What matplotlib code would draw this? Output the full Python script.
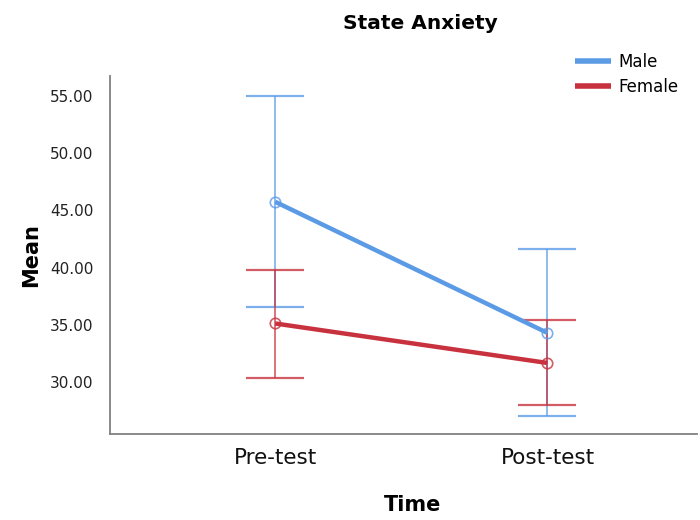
import matplotlib
matplotlib.use("Agg")
import matplotlib.pyplot as plt
import numpy as np

categories = ["Pre-test", "Post-test"]
groups = ["Male", "Female"]
male_mean = [45.75, 34.32]
male_low = [36.56, 27.08]
male_high = [54.97, 41.60]
female_mean = [35.14, 31.70]
female_low = [30.43, 28.01]
female_high = [39.82, 35.45]
yticks = [30, 35, 40, 45, 50, 55]

colors = {"Male": "#5B9BE6", "Female": "#C8323E"}

fig = plt.figure(figsize=(7, 5.2), dpi=100)
ax = fig.add_axes([0.157, 0.165, 0.839, 0.689])

x = np.arange(len(categories))
series = [
    ("Male", male_mean, male_low, male_high),
    ("Female", female_mean, female_low, female_high),
]
for name, m, lo, hi in series:
    c = colors[name]
    m = np.array(m); lo = np.array(lo); hi = np.array(hi)
    ax.errorbar(x, m, yerr=[m - lo, hi - m], fmt="none", ecolor=c, elinewidth=1.2,
                capsize=21, capthick=1.6, alpha=0.8, zorder=2)
    ax.plot(x, m, color=c, lw=3.2, zorder=3, label=name, solid_capstyle="butt")
    ax.plot(x, m, linestyle="none", marker="o", markersize=7.5, markerfacecolor="none",
            markeredgecolor=c, markeredgewidth=1.2, alpha=0.8, zorder=4)

ax.set_xlim(-0.607, 1.55)
ax.set_ylim(25.49, 56.72)
ax.set_yticks(yticks)
ax.set_yticklabels([f"{v:.2f}" for v in yticks], fontsize=11, color="#222222")
ax.set_xticks(x)
ax.set_xticklabels(categories, fontsize=15.5, color="#111111")
ax.tick_params(axis="both", length=0)
ax.tick_params(axis="y", pad=12)
ax.tick_params(axis="x", pad=10)
for s in ["top", "right"]:
    ax.spines[s].set_visible(False)
for s in ["left", "bottom"]:
    ax.spines[s].set_color("#808080")
    ax.spines[s].set_linewidth(1.3)

ax.set_ylabel("Mean", fontsize=15, fontweight="bold", labelpad=6)
fig.text(0.589, 0.028, "Time", fontsize=15, fontweight="bold", ha="center", va="center")
fig.text(0.6, 0.955, "State Anxiety", fontsize=14.5, fontweight="bold", ha="center", va="center")

leg = fig.legend(loc="upper left", bbox_to_anchor=(0.821, 0.899), frameon=False,
                 fontsize=12, handlelength=2.2, handletextpad=0.4, labelspacing=0.45,
                 borderaxespad=0, borderpad=0)
for l in leg.get_lines():
    l.set_linewidth(4)

fig.savefig("out.png", dpi=100)
